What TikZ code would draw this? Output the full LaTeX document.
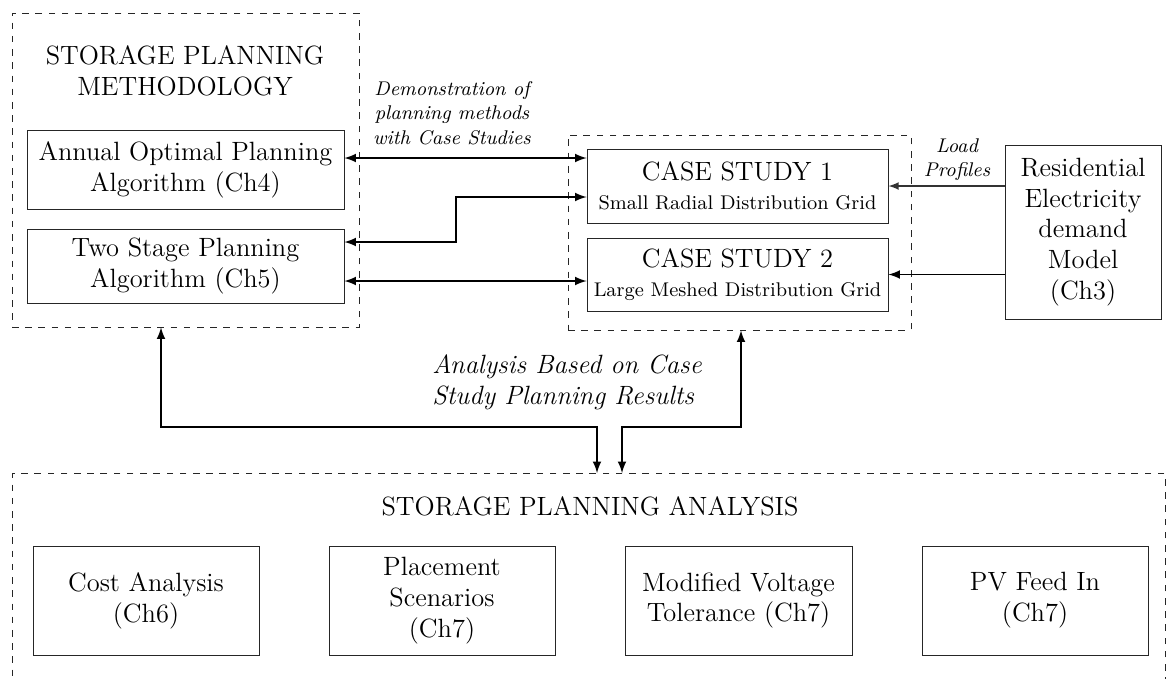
\documentclass[tikz,border=0pt]{standalone}
\usepackage{tikz}
\usetikzlibrary{positioning}

\newdimen\px
\px=0.454pt

\begin{document}
\begin{tikzpicture}[
                x=\px, y=-\px,
                every node/.style={font=\large, align=center},
                block/.style={draw=black!85, inner sep=2pt},
                group/.style={draw=black!85, dashed, inner sep=0pt},
                arr/.style={thick, latex-latex},
                note/.style={font=\small\itshape, align=center}
                ]
                \clip (0,0) rectangle (1168,678);
                % Methodology
                \node[group, minimum width=347\px, minimum height=314\px] (meth) at (185.5,170) {};
                \node at (185,71) {STORAGE PLANNING\\METHODOLOGY};
                \node[block, minimum width=317\px, minimum height=79\px] (ann) at (185.5,169.5)
                  {Annual Optimal Planning\\Algorithm (Ch4)};
                \node[block, minimum width=317\px, minimum height=74\px] (two) at (185.5,266)
                  {Two Stage Planning\\Algorithm (Ch5)};
                % Case studies
                \node[group, minimum width=343\px, minimum height=195\px] (cases) at (739.5,232.5) {};
                \node[block, minimum width=301\px, minimum height=74\px] (cs1) at (737.5,186)
                  {CASE STUDY 1\\[-1pt]{\small Small Radial Distribution Grid}};
                \node[block, minimum width=301\px, minimum height=73\px] (cs2) at (737.5,274.5)
                  {CASE STUDY 2\\[-1pt]{\small Large Meshed Distribution Grid}};
                % Demand model
                \node[block, minimum width=156\px, minimum height=174\px] (res) at (1083,232)
                  {Residential\\Electricity\\demand\\Model\\(Ch3)};
                % Analysis
                \node[group, minimum width=1153\px, minimum height=260\px, anchor=north west] (anal) at (12,473) {};
                \node at (590,506) {STORAGE PLANNING ANALYSIS};
                \node[block, minimum width=226\px, minimum height=109\px] (cost) at (146,600.5)
                  {Cost Analysis\\(Ch6)};
                \node[block, minimum width=226\px, minimum height=109\px] (place) at (442,600.5)
                  {Placement\\Scenarios\\(Ch7)};
                \node[block, minimum width=227\px, minimum height=109\px] (volt) at (738.5,600.5)
                  {Modified Voltage\\Tolerance (Ch7)};
                \node[block, minimum width=226\px, minimum height=109\px] (pv) at (1035,600.5)
                  {PV Feed In\\(Ch7)};
                % Labels
                \node[note] (demo) at (452,113) {Demonstration of\\planning methods\\with Case Studies};
                \node[note] (load) at (957,160) {Load\\Profiles};
                \node[font=\large\itshape, align=left] (res-txt) at (567,382)
                  {Analysis Based on Case\\Study Planning Results};
                % Connectors
                \draw[arr] (ann.east |- 0,158) -- (cs1.west |- 0,158);
                \draw[arr] (cs1.west |- 0,197) -- (456,197) |- (two.east |- 0,242);
                \draw[arr] (two.east |- 0,281) -- (cs2.west |- 0,281);
                \draw[semithick, black!80, -latex] (res.west |- cs1.east) -- (cs1.east);
                \draw[thick, -latex] (res.west |- cs2.east) -- (cs2.east);
                \draw[arr] (meth.south -| 161,0) |- (597,427) -- (anal.north -| 597,0);
                \draw[arr] (anal.north -| 622,0) |- (741,427) -- (cases.south -| 741,0);
              \end{tikzpicture}
\end{document}
